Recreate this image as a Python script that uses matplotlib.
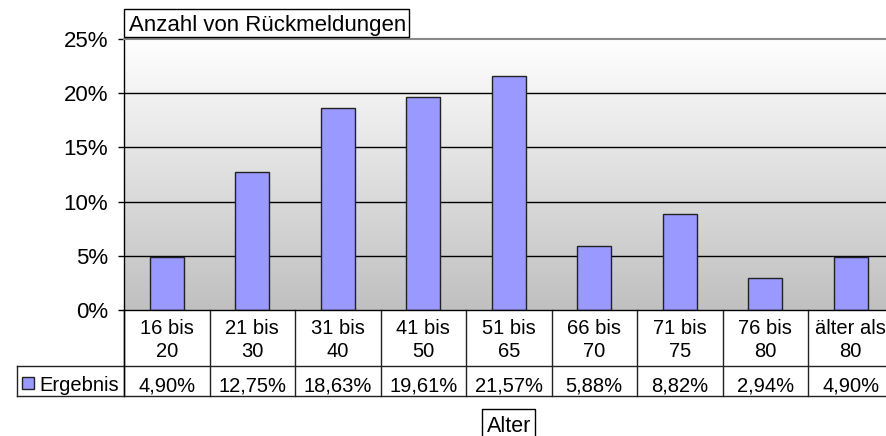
import matplotlib
matplotlib.use("Agg")
import matplotlib.pyplot as plt
import numpy as np
from matplotlib.transforms import blended_transform_factory
from matplotlib.patches import Rectangle
from matplotlib.lines import Line2D

plt.rcParams['font.family'] = ['Liberation Sans', 'DejaVu Sans']

categories = ["16 bis\n20", "21 bis\n30", "31 bis\n40", "41 bis\n50", "51 bis\n65",
              "66 bis\n70", "71 bis\n75", "76 bis\n80", "älter als\n80"]
values = [4.90, 12.75, 18.63, 19.61, 21.57, 5.88, 8.82, 2.94, 4.90]
series_name = "Ergebnis"
title = "Anzahl von Rückmeldungen"
xlabel = "Alter"
yticks = [0, 5, 10, 15, 20, 25]

W, H = 886, 436
fig = plt.figure(figsize=(W / 100, H / 100), dpi=100)
fig.patch.set_facecolor('white')

left, right, top, bottom = 124, 893.5, 39, 310
ax = fig.add_axes([left / W, (H - bottom) / H, (right - left) / W, (bottom - top) / H])
n = len(values)
ax.set_xlim(-0.5, n - 0.5)
ax.set_ylim(0, 25)

# gradient background
grad = np.linspace(1.0, 0.0, 256).reshape(-1, 1)
top_c = np.array([1.0, 1.0, 1.0])
bot_c = np.array([0.753, 0.753, 0.753])
img = top_c[None, None, :] * grad[..., None] + bot_c[None, None, :] * (1 - grad[..., None])
ax.imshow(img, extent=[-0.5, n - 0.5, 0, 25], aspect='auto', zorder=0, origin='upper')

for yv in yticks[1:-1]:
    ax.axhline(yv, color='black', lw=1.0, zorder=1)

x = np.arange(n)
ax.bar(x, values, width=0.4, color='#9999FF', edgecolor='#222222', linewidth=1.0, zorder=2)

for s in ['right', 'bottom']:
    ax.spines[s].set_visible(False)
ax.spines['top'].set_color('#888888')
ax.spines['top'].set_linewidth(1.5)
ax.spines['left'].set_color('black')
ax.spines['left'].set_linewidth(1.0)
ax.axhline(0, color='black', lw=1.0, zorder=3, clip_on=False)

ax.set_xticks([])
ax.set_yticks(yticks)
ax.set_yticklabels([f"{t}%" for t in yticks], fontsize=16)
ax.tick_params(axis='y', direction='out', length=4.5, width=1.0, pad=7, color='black')

# data table
trans = blended_transform_factory(ax.transData, ax.transAxes)
ph = bottom - top


def yf(py):
    return (bottom - py) / ph


r1 = yf(366)
r2 = yf(396)
colw = (right - left) / n
xleft_cell = -0.5 - (left - 17) / colw
lc = '#222222'
for k in range(n + 1):
    ax.add_line(Line2D([k - 0.5, k - 0.5], [0, r2], transform=trans, color=lc, lw=1.0, clip_on=False))
ax.add_line(Line2D([xleft_cell, n - 0.5], [r1, r1], transform=trans, color=lc, lw=1.0, clip_on=False))
ax.add_line(Line2D([xleft_cell, n - 0.5], [r2, r2], transform=trans, color=lc, lw=1.0, clip_on=False))
ax.add_line(Line2D([xleft_cell, xleft_cell], [r1, r2], transform=trans, color=lc, lw=1.0, clip_on=False))
ax.add_line(Line2D([-0.5, -0.5], [0, r2], transform=trans, color='black', lw=1.0, clip_on=False))

for i, (c, v) in enumerate(zip(categories, values)):
    lines = c.split("\n")
    for j, ln in enumerate(lines):
        ax.text(i, yf(334 + 23 * j), ln, transform=trans, ha='center', va='baseline',
                fontsize=14.5, clip_on=False)
    ax.text(i, yf(391), f"{v:.2f}".replace('.', ',') + '%', transform=trans,
            ha='center', va='baseline', fontsize=14.5, clip_on=False)

# legend key + series name
fig.add_artist(Rectangle((22 / W, (H - 389) / H), 12 / W, 12 / H, transform=fig.transFigure,
                         facecolor='#9999FF', edgecolor='#222222', lw=1.0))
fig.text(39 / W, (H - 391) / H, series_name, ha='left', va='baseline', fontsize=14.5)


def pxbox(x0, y0, x1, y1):
    fig.add_artist(Rectangle((x0 / W, (H - y1) / H), (x1 - x0) / W, (y1 - y0) / H,
                             transform=fig.transFigure, facecolor='white',
                             edgecolor='black', lw=1.0, zorder=1))


# title box
pxbox(124, 9.5, 409, 37)
fig.text(129 / W, (H - 31) / H, title, ha='left', va='baseline', fontsize=16, zorder=2)

# x label box
pxbox(482.5, 408.5, 535, 445)
fig.text(((left + right) / 2) / W, (H - 432) / H, xlabel, ha='center', va='baseline',
         fontsize=15.5, zorder=2)

fig.savefig("out.png", dpi=100)
